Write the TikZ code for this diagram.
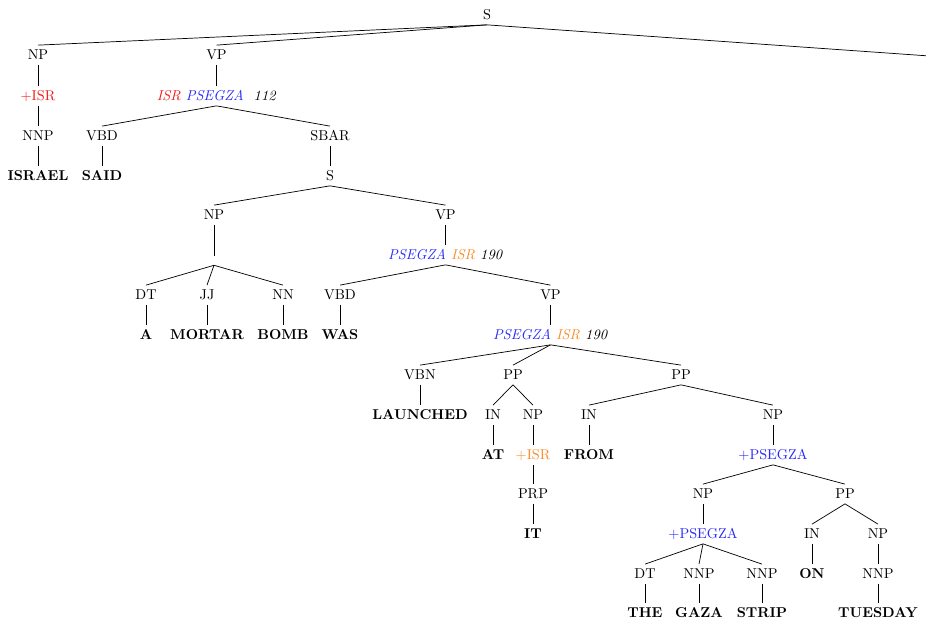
\documentclass[tikz,border=0pt]{standalone}
\usepackage{xcolor}
\definecolor{isrred}{RGB}{245,25,25}
\definecolor{pblue}{RGB}{40,40,250}
\definecolor{isrorange}{RGB}{250,140,40}
\begin{document}
\begin{tikzpicture}[x=0.7pt,y=-0.7pt,
  lab/.style={inner sep=3.2pt, text height=6.9pt, text depth=0.1pt, anchor=center},
  word/.style={lab, font=\bfseries},
  edge/.style={line width=0.5pt}]
\useasboundingbox (0,0) rectangle (926,621);
\newcommand\Risr{\textcolor{isrred}{ISR}}
\newcommand\Oisr{\textcolor{isrorange}{ISR}}
\newcommand\Bps{\textcolor{pblue}{PSEGZA}}
% level nodes
\node[lab] (s1) at (487,15) {S};
\node[lab] (np1) at (38,55) {NP};
\node[lab,text=isrred] (isr1) at (38,96) {+ISR};
\node[lab] (nnp1) at (38,136) {NNP};
\node[word] (israel) at (38,176) {ISRAEL};
\node[lab] (vp1) at (216.5,55) {VP};
\node[lab] (vpa1) at (216.5,96) {\textit{\Risr\ \Bps}\hspace{7pt}\textit{112}};
\node[lab] (vbd1) at (102,136) {VBD};
\node[word] (said) at (102,176) {SAID};
\node[lab] (sbar) at (330,136) {SBAR};
\node[lab] (s2) at (330,176) {S};
\node[lab] (np2) at (214,215) {NP};
\node[inner sep=0pt, minimum height=6.3pt, minimum width=0pt] (enp) at (214,260.5) {};
\node[lab] (dt1) at (146,295) {DT};
\node[word] (wa) at (146,335) {A};
\node[lab] (jj) at (207,295) {JJ};
\node[word] (mortar) at (207,335) {MORTAR};
\node[lab] (nn) at (283,295) {NN};
\node[word] (bomb) at (283,335) {BOMB};
\node[lab] (vp2) at (445.5,215) {VP};
\node[lab] (vpa2) at (445.5,255) {\textit{\Bps\ \Oisr\ 190}};
\node[lab] (vbd2) at (340,295) {VBD};
\node[word] (was) at (340,335) {WAS};
\node[lab] (vp3) at (550.5,295) {VP};
\node[lab] (vpa3) at (550.5,335) {\textit{\Bps\ \Oisr\ 190}};
\node[lab] (vbn) at (420,375) {VBN};
\node[word] (launched) at (420,415) {LAUNCHED};
\node[lab] (pp1) at (513,375) {PP};
\node[lab] (in1) at (493,415) {IN};
\node[word] (wat) at (493,455) {AT};
\node[lab] (np3) at (533,415) {NP};
\node[lab,text=isrorange] (isr2) at (533,455) {+ISR};
\node[lab] (prp) at (533,494) {PRP};
\node[word] (wit) at (533,534) {IT};
\node[lab] (pp2) at (681,375) {PP};
\node[lab] (in2) at (589,415) {IN};
\node[word] (from) at (589,455) {FROM};
\node[lab] (np4) at (773,415) {NP};
\node[lab,text=pblue] (ps1) at (773,455) {+PSEGZA};
\node[lab] (np5) at (703,494) {NP};
\node[lab,text=pblue] (ps2) at (703,534) {+PSEGZA};
\node[lab] (dt2) at (645,574) {DT};
\node[word] (the) at (645,613) {THE};
\node[lab] (nnp2) at (699,574) {NNP};
\node[word] (gaza) at (699,613) {GAZA};
\node[lab] (nnp3) at (762,574) {NNP};
\node[word] (strip) at (762,613) {STRIP};
\node[lab] (pp3) at (845,494) {PP};
\node[lab] (in3) at (812,534) {IN};
\node[word] (won) at (812,574) {ON};
\node[lab] (np6) at (878,534) {NP};
\node[lab] (nnp4) at (878,574) {NNP};
\node[word] (tuesday) at (878,613) {TUESDAY};
\coordinate (rt) at (1100,68);
% edges
\foreach \a/\b in {s1/np1, s1/vp1, np1/isr1, isr1/nnp1, nnp1/israel,
  vp1/vpa1, vpa1/vbd1, vpa1/sbar, vbd1/said, sbar/s2, s2/np2, s2/vp2,
  np2/enp, enp/dt1, enp/jj, enp/nn, dt1/wa, jj/mortar, nn/bomb,
  vp2/vpa2, vpa2/vbd2, vpa2/vp3, vbd2/was, vp3/vpa3,
  vpa3/vbn, vpa3/pp1, vpa3/pp2, vbn/launched,
  pp1/in1, pp1/np3, in1/wat, np3/isr2, isr2/prp, prp/wit,
  pp2/in2, pp2/np4, in2/from, np4/ps1, ps1/np5, ps1/pp3,
  np5/ps2, ps2/dt2, ps2/nnp2, ps2/nnp3, dt2/the, nnp2/gaza, nnp3/strip,
  pp3/in3, pp3/np6, in3/won, np6/nnp4, nnp4/tuesday}
  {\draw[edge] (\a.south) -- (\b.north);}
\draw[edge] (s1.south) -- (rt);
\end{tikzpicture}
\end{document}
